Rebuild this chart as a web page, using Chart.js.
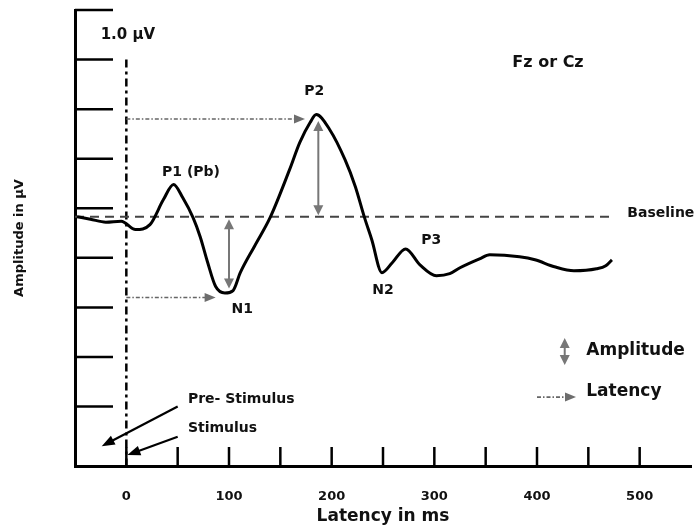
<!DOCTYPE html>
<html>
<head>
<meta charset="utf-8">
<script src="https://cdn.jsdelivr.net/npm/chart.js@4.4.1/dist/chart.umd.min.js"></script>
<style>
  html, body { margin: 0; padding: 0; background: #fff; overflow: hidden; }
  #wrap { width: 697px; height: 528px; position: relative; }
  canvas { display: block; }
</style>
</head>
<body>
<div id="wrap"><canvas id="erpChart"></canvas></div>
<script>
// waveform (latency in ms, amplitude in tick units)
const latencyMs = [-48, -35, -20, -5, 9, 23, 36, 46, 55, 65, 72, 79, 87, 96, 104, 111, 125, 140, 159, 169, 179, 185, 198, 213, 223, 232, 239, 249, 259, 272, 286, 302, 315, 325, 344, 354, 383, 398, 417, 436, 458, 467, 473];
const amplitudeUv = [3.83, 3.78, 3.72, 3.74, 3.57, 3.67, 4.17, 4.48, 4.21, 3.81, 3.42, 2.92, 2.42, 2.29, 2.34, 2.70, 3.24, 3.81, 4.78, 5.33, 5.73, 5.89, 5.59, 4.98, 4.44, 3.81, 3.37, 2.70, 2.90, 3.18, 2.86, 2.64, 2.68, 2.80, 2.98, 3.06, 3.02, 2.96, 2.82, 2.74, 2.78, 2.84, 2.96];

const baselineUv = 3.83;
const baselineSpanMs = [-50, 475];
const stimulusMs = 0;
const stimulusSpanUv = [7, -1.2];

const xTickValues = [-50, 0, 50, 100, 150, 200, 250, 300, 350, 400, 450, 500, 550];
const xTickLabels = ['', '0', '', '100', '', '200', '', '300', '', '400', '', '500', ''];
const yTickValues = [0, 1, 2, 3, 4, 5, 6, 7, 8];

// text labels placed in data units
const textLabels = [
  { text: '1.0 \u00b5V', x: -25, y: 7.5, size: 15, align: 'left' },
  { text: 'Fz or Cz', x: 376, y: 6.93, size: 16, align: 'left' },
  { text: 'P2', x: 183, y: 6.35, size: 14, align: 'center' },
  { text: 'P1 (Pb)', x: 63, y: 4.73, size: 14, align: 'center' },
  { text: 'Baseline', x: 488, y: 3.9, size: 14, align: 'left' },
  { text: 'N1', x: 113, y: 1.97, size: 14, align: 'center' },
  { text: 'N2', x: 250, y: 2.35, size: 14, align: 'center' },
  { text: 'P3', x: 297, y: 3.36, size: 14, align: 'center' },
  { text: 'Pre- Stimulus', x: 60, y: 0.15, size: 14, align: 'left' },
  { text: 'Stimulus', x: 60, y: -0.45, size: 14, align: 'left' },
  { text: 'Amplitude', x: 448, y: 1.12, size: 17, align: 'left' },
  { text: 'Latency', x: 448, y: 0.31, size: 17, align: 'left' }
];

// arrows: from -> to, in data units
const latencyArrows = [
  { x1: 0, y1: 5.8, x2: 174, y2: 5.8 },
  { x1: 0, y1: 2.2, x2: 87, y2: 2.2 },
  { x1: 400, y1: 0.19, x2: 438, y2: 0.19 }
];
const amplitudeArrows = [
  { x: 100, y1: 3.78, y2: 2.38 },
  { x: 187, y1: 5.76, y2: 3.86 },
  { x: 427, y1: 1.38, y2: 0.84 }
];
const stimulusArrows = [
  { x1: 50, y1: 0.0, x2: -24, y2: -0.8 },
  { x1: 50, y1: -0.61, x2: 1, y2: -0.98 }
];

const FONT = "'DejaVu Sans', 'Liberation Sans', sans-serif";

function arrowHead(ctx, x1, y1, x2, y2, len, half, color) {
  const a = Math.atan2(y2 - y1, x2 - x1);
  ctx.save();
  ctx.setLineDash([]);
  ctx.fillStyle = color;
  ctx.beginPath();
  ctx.moveTo(x2, y2);
  ctx.lineTo(x2 - len * Math.cos(a) + half * Math.sin(a), y2 - len * Math.sin(a) - half * Math.cos(a));
  ctx.lineTo(x2 - len * Math.cos(a) - half * Math.sin(a), y2 - len * Math.sin(a) + half * Math.cos(a));
  ctx.closePath();
  ctx.fill();
  ctx.restore();
}

const decorations = {
  id: 'decorations',
  afterDraw(chart) {
    const { ctx } = chart;
    const xs = chart.scales.x, ys = chart.scales.y;
    const px = v => xs.getPixelForValue(v);
    const py = v => ys.getPixelForValue(v);
    const area = chart.chartArea;

    ctx.save();
    // inward tick marks
    ctx.strokeStyle = '#000';
    ctx.lineWidth = 2.5;
    xs.ticks.forEach(t => {
      if (t.value <= xs.min || t.value >= xs.max) return;
      const x = px(t.value);
      ctx.beginPath();
      ctx.moveTo(x, area.bottom);
      ctx.lineTo(x, area.bottom - 19);
      ctx.stroke();
    });
    ys.ticks.forEach(t => {
      const y = py(t.value);
      ctx.beginPath();
      ctx.moveTo(area.left, y);
      ctx.lineTo(area.left + 38, y);
      ctx.stroke();
    });

    // latency arrows (dotted)
    latencyArrows.forEach(a => {
      const x1 = px(a.x1), y1 = py(a.y1), x2 = px(a.x2), y2 = py(a.y2);
      ctx.strokeStyle = '#666';
      ctx.lineWidth = 1.6;
      ctx.setLineDash([4, 2, 1.5, 2]);
      ctx.beginPath();
      ctx.moveTo(x1, y1);
      ctx.lineTo(x2 - 8, y2);
      ctx.stroke();
      arrowHead(ctx, x1, y1, x2, y2, 11, 4.5, '#6d6d6d');
    });
    ctx.setLineDash([]);

    // amplitude double arrows
    amplitudeArrows.forEach(a => {
      const x = px(a.x), y1 = py(a.y1), y2 = py(a.y2);
      ctx.strokeStyle = '#777';
      ctx.lineWidth = 2;
      ctx.beginPath();
      ctx.moveTo(x, y1 + 6);
      ctx.lineTo(x, y2 - 6);
      ctx.stroke();
      arrowHead(ctx, x, y2, x, y1, 10, 5, '#777');
      arrowHead(ctx, x, y1, x, y2, 10, 5, '#777');
    });

    // stimulus pointers
    stimulusArrows.forEach(a => {
      const x1 = px(a.x1), y1 = py(a.y1), x2 = px(a.x2), y2 = py(a.y2);
      ctx.strokeStyle = '#000';
      ctx.lineWidth = 2.2;
      ctx.beginPath();
      ctx.moveTo(x1, y1);
      ctx.lineTo(x2 + (x1 - x2) * 0.1, y2 + (y1 - y2) * 0.1);
      ctx.stroke();
      arrowHead(ctx, x1, y1, x2, y2, 13, 5, '#000');
    });

    // text
    ctx.fillStyle = '#111';
    ctx.textBaseline = 'middle';
    textLabels.forEach(l => {
      ctx.font = 'bold ' + l.size + 'px ' + FONT;
      ctx.textAlign = l.align;
      ctx.fillText(l.text, px(l.x), py(l.y));
    });
    ctx.restore();
  }
};

new Chart(document.getElementById('erpChart').getContext('2d'), {
  type: 'line',
  data: {
    datasets: [
      {
        label: 'ERP',
        data: latencyMs.map((t, i) => ({ x: t, y: amplitudeUv[i] })),
        borderColor: '#000',
        borderWidth: 3,
        cubicInterpolationMode: 'monotone',
        pointRadius: 0,
        fill: false
      },
      {
        label: 'Baseline',
        data: baselineSpanMs.map(t => ({ x: t, y: baselineUv })),
        borderColor: '#444',
        borderWidth: 2,
        borderDash: [9, 6],
        pointRadius: 0,
        fill: false
      },
      {
        label: 'Stimulus',
        data: stimulusSpanUv.map(v => ({ x: stimulusMs, y: v })),
        borderColor: '#000',
        borderWidth: 2.5,
        borderDash: [8, 4, 3, 4],
        pointRadius: 0,
        fill: false
      }
    ]
  },
  options: {
    responsive: true,
    maintainAspectRatio: false,
    animation: false,
    layout: { padding: { top: 10, right: 6, left: 0, bottom: 0 } },
    plugins: { legend: { display: false }, tooltip: { enabled: false } },
    scales: {
      x: {
        type: 'linear',
        min: -50,
        max: 550,
        afterFit: s => { s.height = 62; s.paddingLeft = 0; s.paddingRight = 0; },
        afterBuildTicks: s => { s.ticks = xTickValues.map(v => ({ value: v })); },
        grid: { display: false },
        border: { display: true, color: '#000', width: 3 },
        ticks: {
          autoSkip: false,
          maxRotation: 0,
          padding: 15,
          color: '#111',
          font: { family: FONT, size: 13, weight: 'bold' },
          callback: (v) => xTickLabels[xTickValues.indexOf(v)] || ''
        },
        title: {
          display: true,
          text: 'Latency in ms',
          color: '#111',
          font: { family: FONT, size: 17, weight: 'bold' },
          padding: { top: 0, bottom: 1 }
        }
      },
      y: {
        type: 'linear',
        min: -1.2,
        max: 8,
        afterFit: s => { s.width = 75; s.paddingTop = 0; s.paddingBottom = 0; },
        afterBuildTicks: s => { s.ticks = yTickValues.map(v => ({ value: v })); },
        grid: { display: false },
        border: { display: true, color: '#000', width: 3 },
        ticks: { display: false },
        title: {
          display: true,
          text: 'Amplitude in \u00b5V',
          color: '#111',
          font: { family: FONT, size: 13, weight: 'bold' },
          padding: { top: 12, bottom: 0 }
        }
      }
    }
  },
  plugins: [decorations]
});
</script>
</body>
</html>
